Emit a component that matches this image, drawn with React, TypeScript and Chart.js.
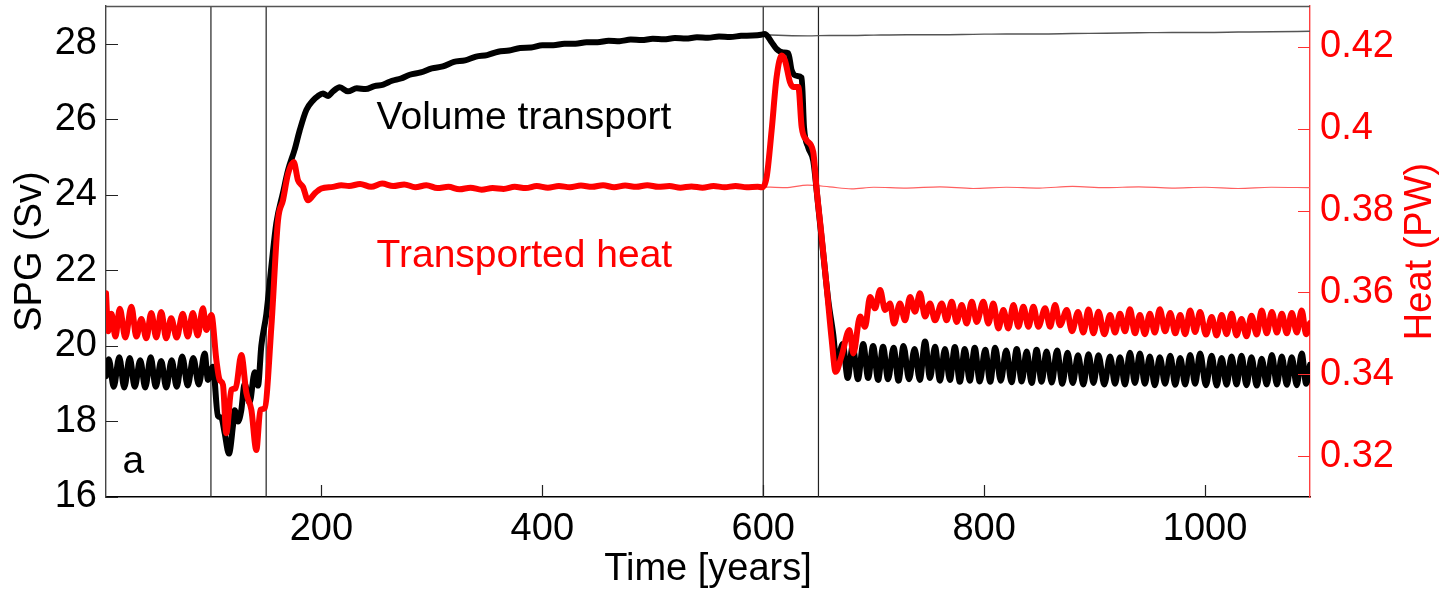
import React, { useEffect, useRef } from "react";
import { Chart, registerables } from "chart.js";

Chart.register(...registerables);

const FONT = '"Liberation Sans", Arial, Helvetica, sans-serif';

// ---- axis ranges & ticks ----
const yearMin = 5;
const yearMax = 1095;
const svMin = 16;
const svMax = 29;
const pwMin = 0.31;
const pwMax = 0.43;
const xTicks = [200, 400, 600, 800, 1000];
const svTicks = [16, 18, 20, 22, 24, 26, 28];
const pwTicks = [0.32, 0.34, 0.36, 0.38, 0.4, 0.42];
const pwTickLabels = ["0.32", "0.34", "0.36", "0.38", "0.4", "0.42"];

// ---- thick black: volume transport (Sv) ----
const volumeYears = [
  5, 7.5, 12, 17, 21.5, 26.5, 31, 36, 40.5, 45.5,
  50, 55, 59.5, 64.5, 69, 74, 79, 84, 89, 94.3,
  97.3, 101.8, 106.3, 109.4, 112.4, 116.3, 120, 121.5, 124.5, 127.5,
  130.5, 135, 139.6, 142.6, 145.6, 150.2, 154.7, 159.2, 165.2, 169.8,
  175.8, 180.3, 186.4, 192.4, 197, 201.5, 206, 210.5, 216.6, 224,
  232, 240, 248, 256, 264, 272, 280, 290, 300, 310,
  320, 330, 340, 350, 360, 370, 380, 390, 400, 410,
  420, 430, 440, 450, 460, 470, 480, 490, 500, 510,
  520, 530, 540, 550, 560, 570, 580, 590, 598, 601.6,
  607.6, 612.1, 618.1, 622.7, 625.7, 630.3, 634.8, 636.9, 640.8, 645.3,
  649.8, 654.3, 658.9, 663.4, 666.5, 672, 676.5, 681, 685.8, 690.5,
  695, 699.5, 704, 708.5, 713, 718, 722.5, 727, 732, 737,
  741.8, 746.5, 751, 755.5, 760, 764.5, 769, 773.5, 778, 782.5,
  787, 791.5, 796, 801, 805.5, 810, 815, 820, 824.8, 829.5,
  834, 838.5, 843, 847.5, 852, 856.5, 861.2, 866, 870.8, 875.5,
  880.2, 885, 889.8, 894.5, 899, 903.5, 908.8, 914, 918.5, 923,
  927.5, 932, 936.5, 941, 945.5, 950, 954.5, 959, 963.8, 968.5,
  973, 977.5, 982, 986.5, 991, 995.5, 1000.8, 1006, 1010.5, 1015,
  1019.5, 1024, 1028.5, 1033, 1037.5, 1042, 1046.8, 1051.3, 1055.8, 1060.5,
  1065, 1069.5, 1074, 1078.5, 1083, 1087.5, 1091.5, 1095,
];
const volumeSv = [
  19.2, 19.65, 18.92, 19.7, 18.9, 19.68, 18.92, 19.62, 18.9, 19.7,
  18.92, 19.6, 18.9, 19.62, 18.92, 19.72, 18.95, 19.68, 18.98, 19.8,
  19.1, 19.45, 18.15, 18.1, 17.7, 17.15, 17.9, 18.3, 18.0, 18.3,
  19.0, 18.5, 19.3, 18.95, 20.0, 20.85, 22.1, 23.25, 24.05, 24.65,
  25.2, 25.7, 26.25, 26.5, 26.62, 26.68, 26.62, 26.74, 26.85, 26.74,
  26.82, 26.8, 26.88, 26.92, 27.02, 27.08, 27.18, 27.24, 27.35, 27.4,
  27.52, 27.56, 27.66, 27.7, 27.79, 27.82, 27.89, 27.9, 27.96, 27.96,
  28.0, 28.0, 28.04, 28.04, 28.08, 28.07, 28.11, 28.1, 28.13, 28.12,
  28.15, 28.14, 28.17, 28.16, 28.19, 28.18, 28.21, 28.22, 28.24, 28.26,
  28.04, 27.86, 27.77, 27.75, 27.3, 27.15, 27.1, 25.8, 25.25, 24.9,
  23.7, 22.45, 21.2, 20.3, 19.55, 20.05, 19.15, 20.0, 19.12, 20.05,
  19.15, 20.0, 19.1, 19.98, 19.12, 19.95, 19.08, 20.0, 19.12, 19.92,
  19.1, 20.12, 19.15, 19.98, 19.08, 19.92, 19.1, 19.97, 19.05, 19.92,
  19.08, 19.95, 19.06, 19.9, 19.05, 19.95, 19.08, 19.88, 19.04, 19.92,
  19.06, 19.85, 19.02, 19.9, 19.05, 19.85, 19.03, 19.88, 19.0, 19.82,
  19.02, 19.75, 18.98, 19.78, 19.02, 19.75, 18.98, 19.72, 19.0, 19.7,
  18.98, 19.82, 19.02, 19.8, 19.0, 19.72, 18.96, 19.7, 19.0, 19.74,
  18.97, 19.68, 18.98, 19.76, 19.0, 19.8, 18.96, 19.74, 18.95, 19.68,
  18.97, 19.72, 18.98, 19.74, 18.96, 19.7, 18.95, 19.66, 18.98, 19.76,
  18.98, 19.72, 18.97, 19.7, 18.96, 19.8, 19.0, 19.5,
];

// ---- thick red: transported heat (PW) ----
const heatYears = [
  5, 7, 10, 13.5, 17.5, 22.5, 28, 32.5, 37, 41.5,
  46, 50.5, 55, 59.5, 64, 69, 74.5, 79, 83.6, 88,
  92.8, 95.8, 100.4, 104.9, 107.9, 110.9, 113.9, 118.5, 122.4, 127.5,
  132.1, 136.6, 141.1, 144.7, 148.6, 154.7, 160.7, 165.2, 169.8, 174.9,
  178.8, 183.3, 187.9, 193.9, 200, 210.5, 218, 225, 235, 245,
  255, 265, 275, 285, 295, 305, 315, 325, 335, 345,
  355, 365, 375, 385, 395, 405, 415, 425, 435, 445,
  455, 465, 475, 485, 495, 505, 515, 525, 535, 545,
  555, 565, 575, 585, 595, 598.6, 603.1, 607.6, 612.1, 616.7,
  619.7, 624.2, 627.2, 631.8, 634.8, 639.3, 645.3, 648.4, 652.9, 657.4,
  662, 665.5, 671, 678, 681.6, 687.7, 692.2, 696.7, 701.2, 705.8,
  710.3, 714.8, 718.4, 723.8, 728.4, 732.9, 737.4, 741.9, 746.5, 751,
  755.5, 761.6, 766.1, 770.6, 775.2, 779.7, 784.2, 788.8, 793.3, 799.3,
  803.8, 808.3, 812.9, 817.4, 821.9, 826.5, 831, 835.5, 840.1, 844.6,
  849.1, 855.2, 859.7, 864.2, 868.7, 874.8, 879.5, 885, 889.8, 894.5,
  899, 903.5, 908.8, 914, 918.5, 923, 927.5, 932, 936.5, 941,
  945.5, 950, 954.5, 959, 963.8, 968.5, 973, 977.5, 982, 986.5,
  991, 995.5, 1000.8, 1006, 1010.5, 1015, 1019.5, 1024, 1028.5, 1033,
  1037.5, 1042, 1046.8, 1051.3, 1055.8, 1060.5, 1065, 1069.5, 1074, 1078.5,
  1083, 1087.5, 1091.5, 1095,
];
const heatPW = [
  0.3598, 0.3505, 0.3548, 0.3492, 0.356, 0.349, 0.3565, 0.3492, 0.3535, 0.3488,
  0.355, 0.349, 0.3552, 0.3488, 0.3537, 0.349, 0.3548, 0.3492, 0.355, 0.3495,
  0.3561, 0.3508, 0.3545, 0.3435, 0.3386, 0.3374, 0.3256, 0.3362, 0.3366, 0.3447,
  0.3354, 0.3313, 0.3215, 0.3313, 0.3317, 0.3516, 0.3776, 0.3825, 0.389, 0.3919,
  0.3874, 0.3858, 0.3825, 0.3842, 0.3854, 0.3858, 0.3862, 0.386, 0.3865, 0.3858,
  0.3866, 0.386, 0.3864, 0.3857, 0.3862, 0.3855, 0.3858, 0.3852, 0.3856, 0.3851,
  0.3855, 0.3853, 0.3858, 0.3855, 0.386, 0.3856, 0.386, 0.3857, 0.3861, 0.3858,
  0.3862, 0.3857, 0.3861, 0.3858, 0.3862, 0.3858, 0.386, 0.3856, 0.3859, 0.3856,
  0.386, 0.3857, 0.386, 0.3857, 0.3858, 0.3857, 0.3882, 0.3996, 0.4126, 0.4179,
  0.4167, 0.4114, 0.4102, 0.4102, 0.4004, 0.3972, 0.3943, 0.385, 0.3736, 0.3614,
  0.3484, 0.3406, 0.3445, 0.3508, 0.3451, 0.3541, 0.3516, 0.3589, 0.3561, 0.3606,
  0.3557, 0.3573, 0.3524, 0.3573, 0.3532, 0.3589, 0.3553, 0.3598, 0.3541, 0.3573,
  0.3532, 0.3573, 0.3532, 0.3577, 0.3528, 0.3569, 0.3524, 0.3577, 0.3528, 0.3577,
  0.3524, 0.3573, 0.3512, 0.3557, 0.3512, 0.3569, 0.3516, 0.3565, 0.3516, 0.3565,
  0.3516, 0.3561, 0.3516, 0.3569, 0.352, 0.3557, 0.3505, 0.3552, 0.3502, 0.3558,
  0.35, 0.3553, 0.3498, 0.3545, 0.3502, 0.3548, 0.3505, 0.3559, 0.35, 0.3545,
  0.3498, 0.3548, 0.3502, 0.3559, 0.3505, 0.355, 0.35, 0.3545, 0.3498, 0.3556,
  0.3503, 0.3552, 0.3497, 0.354, 0.3495, 0.3545, 0.3498, 0.3548, 0.3495, 0.3535,
  0.3493, 0.3543, 0.3497, 0.3556, 0.35, 0.3552, 0.3502, 0.3548, 0.35, 0.355,
  0.3502, 0.3556, 0.3498, 0.3525,
];

// ---- thin control run after year 600 ----
const controlYears = [600, 620, 640, 660, 680, 700, 730, 760, 790, 820, 850, 880, 910, 940, 970, 1000, 1030, 1060, 1095];
const controlSv = [28.24, 28.22, 28.21, 28.22, 28.22, 28.23, 28.24, 28.24, 28.25, 28.26, 28.26, 28.27, 28.28, 28.29, 28.3, 28.3, 28.31, 28.32, 28.33];
const controlPW = [0.3858, 0.3856, 0.3862, 0.3858, 0.3853, 0.3857, 0.3855, 0.3858, 0.3854, 0.3857, 0.3855, 0.3859, 0.3856, 0.3858, 0.3855, 0.3857, 0.3854, 0.3857, 0.3856];

// ---- event markers (vertical lines) ----
const eventYears = [100, 150, 600, 650];

// ---- text anchors (data coordinates) ----
const volumeLabelAt = { x: 250, y: 25.75 };
const heatLabelAt = { x: 250, y: 22.09 };
const panelLetterAt = { x: 20, y: 16.64 };

const toPoints = (xs: number[], ys: number[]) => xs.map((x, i) => ({ x, y: ys[i] }));

const decorPlugin = {
  id: "decor",
  afterDraw(chart: any) {
    const { ctx, chartArea: ca, scales } = chart;
    const xs = scales.x;
    const ys = scales.y;
    const y1 = scales.y1;
    ctx.save();
    // top frame line
    ctx.strokeStyle = "#555";
    ctx.lineWidth = 1.4;
    ctx.beginPath();
    ctx.moveTo(ca.left, ca.top + 0.5);
    ctx.lineTo(ca.right, ca.top + 0.5);
    ctx.stroke();
    // inward tick marks
    const tl = 12;
    ctx.lineWidth = 1.2;
    ctx.strokeStyle = "#222";
    ctx.beginPath();
    xTicks.forEach((v) => {
      const px = Math.round(xs.getPixelForValue(v)) + 0.5;
      ctx.moveTo(px, ca.bottom);
      ctx.lineTo(px, ca.bottom - tl);
    });
    svTicks.forEach((v) => {
      const py = Math.round(ys.getPixelForValue(v)) + 0.5;
      ctx.moveTo(ca.left, py);
      ctx.lineTo(ca.left + tl, py);
    });
    ctx.stroke();
    ctx.strokeStyle = "#ff3030";
    ctx.beginPath();
    pwTicks.forEach((v) => {
      const py = Math.round(y1.getPixelForValue(v)) + 0.5;
      ctx.moveTo(ca.right, py);
      ctx.lineTo(ca.right - tl, py);
    });
    ctx.stroke();
    // annotations
    ctx.font = `39px ${FONT}`;
    ctx.textAlign = "left";
    ctx.textBaseline = "alphabetic";
    ctx.fillStyle = "#000";
    ctx.fillText("Volume transport", xs.getPixelForValue(volumeLabelAt.x), ys.getPixelForValue(volumeLabelAt.y));
    ctx.fillText("a", xs.getPixelForValue(panelLetterAt.x), ys.getPixelForValue(panelLetterAt.y));
    ctx.fillStyle = "#ff0000";
    ctx.fillText("Transported heat", xs.getPixelForValue(heatLabelAt.x), ys.getPixelForValue(heatLabelAt.y));
    // right axis title (reads bottom-to-top)
    ctx.translate(y1.right - 31, (ca.top + ca.bottom) / 2);
    ctx.rotate(-Math.PI / 2);
    ctx.textAlign = "center";
    ctx.textBaseline = "middle";
    ctx.font = `38px ${FONT}`;
    ctx.fillText("Heat (PW)", 0, 0);
    ctx.restore();
  },
};

export default function App() {
  const canvasRef = useRef<HTMLCanvasElement | null>(null);

  useEffect(() => {
    const canvas = canvasRef.current;
    if (!canvas) return;

    const eventSets = eventYears.map((yr) => ({
      data: [
        { x: yr, y: svMin },
        { x: yr, y: svMax },
      ],
      yAxisID: "y",
      borderColor: "#222",
      borderWidth: 1.2,
      pointRadius: 0,
      order: 5,
      clip: 0,
    }));

    const chart = new Chart(canvas, {
      type: "line",
      data: {
        datasets: [
          {
            data: toPoints(heatYears, heatPW),
            yAxisID: "y1",
            borderColor: "#ff0000",
            borderWidth: 6,
            pointRadius: 0,
            cubicInterpolationMode: "monotone",
            order: 0,
          },
          {
            data: toPoints(volumeYears, volumeSv),
            yAxisID: "y",
            borderColor: "#000000",
            borderWidth: 6,
            pointRadius: 0,
            cubicInterpolationMode: "monotone",
            order: 1,
          },
          {
            data: toPoints(controlYears, controlPW),
            yAxisID: "y1",
            borderColor: "#ff6060",
            borderWidth: 1.2,
            pointRadius: 0,
            cubicInterpolationMode: "monotone",
            order: 2,
          },
          {
            data: toPoints(controlYears, controlSv),
            yAxisID: "y",
            borderColor: "#555555",
            borderWidth: 1.4,
            pointRadius: 0,
            cubicInterpolationMode: "monotone",
            order: 3,
          },
          ...eventSets,
        ] as any,
      },
      options: {
        responsive: false,
        animation: false,
        devicePixelRatio: 1,
        layout: { padding: { top: 6, left: 0, right: 0, bottom: 0 } },
        elements: {
          point: { radius: 0 },
          line: { borderCapStyle: "round", borderJoinStyle: "round" },
        },
        plugins: {
          legend: { display: false },
          tooltip: { enabled: false },
          title: { display: false },
        },
        scales: {
          x: {
            type: "linear",
            position: "bottom",
            min: yearMin,
            max: yearMax,
            afterBuildTicks: (s: any) => {
              s.ticks = xTicks.map((v) => ({ value: v }));
            },
            afterFit: (s: any) => {
              s.height = 96;
              s.paddingLeft = 0;
              s.paddingRight = 0;
            },
            grid: { display: false, drawTicks: false, tickLength: 0 },
            border: { display: true, color: "#000", width: 1.5 },
            ticks: {
              color: "#000",
              font: { family: FONT, size: 38 },
              padding: 10,
              maxRotation: 0,
              autoSkip: false,
              callback: (v: any) => String(v),
            },
            title: {
              display: true,
              text: "Time [years]",
              color: "#000",
              font: { family: FONT, size: 38 },
              padding: { top: 0, bottom: 1 },
            },
          },
          y: {
            type: "linear",
            position: "left",
            min: svMin,
            max: svMax,
            afterBuildTicks: (s: any) => {
              s.ticks = svTicks.map((v) => ({ value: v }));
            },
            afterFit: (s: any) => {
              s.width = 106;
              s.paddingTop = 0;
              s.paddingBottom = 0;
            },
            grid: { display: false, drawTicks: false, tickLength: 0 },
            border: { display: true, color: "#444", width: 1.4 },
            ticks: {
              color: "#000",
              font: { family: FONT, size: 38 },
              padding: 9,
              autoSkip: false,
              callback: (v: any) => String(v),
            },
            title: {
              display: true,
              text: "SPG (Sv)",
              color: "#000",
              font: { family: FONT, size: 38 },
              padding: { top: 8, bottom: 0 },
            },
          },
          y1: {
            type: "linear",
            position: "right",
            min: pwMin,
            max: pwMax,
            afterBuildTicks: (s: any) => {
              s.ticks = pwTicks.map((v) => ({ value: v }));
            },
            afterFit: (s: any) => {
              s.width = 142;
              s.paddingTop = 0;
              s.paddingBottom = 0;
            },
            grid: { display: false, drawTicks: false, tickLength: 0 },
            border: { display: true, color: "#ff4040", width: 1.4 },
            ticks: {
              color: "#ff0000",
              font: { family: FONT, size: 38 },
              padding: 10,
              autoSkip: false,
              callback: (_v: any, i: number) => pwTickLabels[i],
            },
            title: { display: false },
          },
        },
      } as any,
      plugins: [decorPlugin],
    });

    return () => chart.destroy();
  }, []);

  return (
    <div style={{ position: "fixed", left: 0, top: 0, width: 1452, height: 593, background: "#fff" }}>
      <canvas ref={canvasRef} width={1452} height={593} style={{ display: "block" }} />
    </div>
  );
}
